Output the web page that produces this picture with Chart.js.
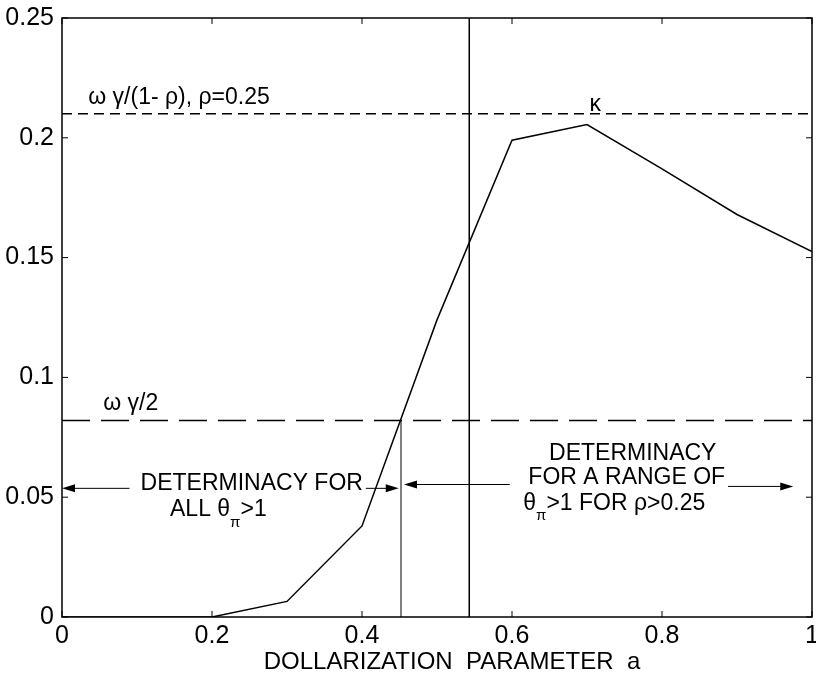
<!DOCTYPE html>
<html>
<head>
<meta charset="utf-8">
<script src="https://cdn.jsdelivr.net/npm/chart.js@4.4.1/dist/chart.umd.min.js"></script>
<style>
body { margin: 0; background: #fff; }
#wrap { width: 816px; height: 677px; }
</style>
</head>
<body>
<div id="wrap"><canvas id="kappaChart"></canvas></div>
<script>
// dollarization parameter a and kappa
var aValues = [0, 0.1, 0.2, 0.3, 0.4, 0.5, 0.6, 0.7, 0.8, 0.9, 1.0];
var kappaValues = [0, 0, 0, 0.0065, 0.038, 0.124, 0.199, 0.2055, 0.187, 0.168, 0.1525];

// reference levels
var upperLevel = 0.21;   // omega gamma/(1-rho), rho=0.25
var halfLevel = 0.082;   // omega gamma/2
var aCross = 0.452;      // kappa meets omega gamma/2
var aSplit = 0.543;

var xTicks = [0, 0.2, 0.4, 0.6, 0.8, 1];
var yTicks = [0, 0.05, 0.1, 0.15, 0.2, 0.25];
var xTitle = 'DOLLARIZATION  PARAMETER  a';

// arrows (data coords)
var arrowFromX = [0.09, 0.405, 0.597, 0.888];
var arrowToX = [0.0, 0.449, 0.456, 0.975];
var arrowY = [0.0537, 0.0537, 0.0553, 0.0545];

// text notes (data coords); [text, subscript?] parts
var noteParts = [
    [['ω γ/(1- ρ), ρ=0.25', 0]],
    [['κ', 0]],
    [['ω γ/2', 0]],
    [['DETERMINACY FOR', 0]],
    [['ALL θ', 0], ['π', 1], ['>1', 0]],
    [['DETERMINACY', 0]],
    [['FOR A RANGE OF', 0]],
    [['θ', 0], ['π', 1], ['>1 FOR ρ>0.25', 0]]
];
var noteX = [0.035, 0.711, 0.055, 0.253, 0.144, 0.761, 0.753, 0.615];
var noteY = [0.2167, 0.214, 0.089, 0.0558, 0.0446, 0.0683, 0.058, 0.0475];
var noteAlign = ['left', 'center', 'left', 'center', 'left', 'center', 'center', 'left'];

var FONT = "'Liberation Sans', Arial, sans-serif";

function pts(xs, ys) {
    var out = [];
    for (var i = 0; i < xs.length; i++) out.push({x: xs[i], y: ys[i]});
    return out;
}

function drawRich(ctx, parts, x, y, align) {
    var big = '23px ' + FONT, small = '15px ' + FONT;
    var total = 0;
    parts.forEach(function(p) {
        ctx.font = p[1] ? small : big;
        total += ctx.measureText(p[0]).width;
    });
    var cx = x;
    if (align == 'center') cx = x - total / 2;
    ctx.textAlign = 'left';
    ctx.textBaseline = 'middle';
    parts.forEach(function(p) {
        ctx.font = p[1] ? small : big;
        ctx.fillText(p[0], cx, p[1] ? y + 13 : y);
        cx += ctx.measureText(p[0]).width;
    });
}

var frame = {
    id: 'frame',
    afterDatasetsDraw: function(chart) {
        var ctx = chart.ctx, area = chart.chartArea;
        var xs = chart.scales.x, ys = chart.scales.y;
        ctx.save();
        ctx.strokeStyle = '#000';
        ctx.fillStyle = '#000';
        ctx.lineWidth = 1.5;
        ctx.strokeRect(area.left, area.top, area.right - area.left, area.bottom - area.top);

        // inward ticks on all four sides
        ctx.lineWidth = 1;
        ctx.beginPath();
        xTicks.forEach(function(v) {
            var px = xs.getPixelForValue(v);
            ctx.moveTo(px, area.bottom); ctx.lineTo(px, area.bottom - 6);
            ctx.moveTo(px, area.top); ctx.lineTo(px, area.top + 6);
        });
        yTicks.forEach(function(v) {
            var py = ys.getPixelForValue(v);
            ctx.moveTo(area.left, py); ctx.lineTo(area.left + 6, py);
            ctx.moveTo(area.right, py); ctx.lineTo(area.right - 6, py);
        });
        ctx.stroke();

        // arrows
        for (var i = 0; i < arrowFromX.length; i++) {
            var x1 = xs.getPixelForValue(arrowFromX[i]);
            var x2 = xs.getPixelForValue(arrowToX[i]);
            var py = ys.getPixelForValue(arrowY[i]);
            var dir = x2 > x1 ? 1 : -1;
            ctx.beginPath();
            ctx.moveTo(x1, py); ctx.lineTo(x2 - dir * 10, py);
            ctx.stroke();
            ctx.beginPath();
            ctx.moveTo(x2, py);
            ctx.lineTo(x2 - dir * 13, py - 4);
            ctx.lineTo(x2 - dir * 13, py + 4);
            ctx.closePath();
            ctx.fill();
        }

        // notes
        for (var j = 0; j < noteParts.length; j++) {
            drawRich(ctx, noteParts[j], xs.getPixelForValue(noteX[j]), ys.getPixelForValue(noteY[j]), noteAlign[j]);
        }

        // x axis title, sits a bit right of centre like the original
        ctx.font = '24px ' + FONT;
        ctx.textAlign = 'center';
        ctx.textBaseline = 'middle';
        ctx.fillText(xTitle, xs.getPixelForValue(0.52), 662);
        ctx.restore();
    }
};

function tickText(value) {
    return String(Number(value.toFixed(2)));
}

var ctx = document.getElementById('kappaChart').getContext('2d');

var chart1 = new Chart(ctx, {
    type: 'line',
    data: {
        datasets: [{
            label: 'kappa',
            data: pts(aValues, kappaValues),
            borderColor: '#000',
            borderWidth: 1.5,
            pointRadius: 0,
            tension: 0
        }, {
            label: 'upper',
            data: pts([0, 1], [upperLevel, upperLevel]),
            borderColor: '#000',
            borderWidth: 1.5,
            borderDash: [10, 6],
            pointRadius: 0
        }, {
            label: 'half',
            data: pts([0, 1], [halfLevel, halfLevel]),
            borderColor: '#000',
            borderWidth: 1.5,
            borderDash: [28, 11],
            pointRadius: 0
        }, {
            label: 'cross',
            data: pts([aCross, aCross], [0, halfLevel]),
            borderColor: '#000',
            borderWidth: 1,
            pointRadius: 0
        }, {
            label: 'split',
            data: pts([aSplit, aSplit], [0, 0.25]),
            borderColor: '#000',
            borderWidth: 1.5,
            pointRadius: 0
        }]
    },
    options: {
        responsive: true,
        maintainAspectRatio: false,
        animation: false,
        layout: { padding: { top: 18, right: 4, left: 0, bottom: 0 } },
        plugins: {
            legend: { display: false },
            tooltip: { enabled: false }
        },
        scales: {
            x: {
                type: 'linear',
                min: 0,
                max: 1,
                grid: { display: false, drawTicks: false },
                border: { display: false },
                ticks: {
                    stepSize: 0.2,
                    color: '#000',
                    padding: 4,
                    maxRotation: 0,
                    font: { family: FONT, size: 25 },
                    callback: tickText
                },
                afterFit: function(scale) {
                    scale.height = 60;
                    scale.paddingLeft = 0;
                    scale.paddingRight = 0;
                }
            },
            y: {
                min: 0,
                max: 0.25,
                grid: { display: false, drawTicks: false },
                border: { display: false },
                ticks: {
                    stepSize: 0.05,
                    color: '#000',
                    padding: 8,
                    font: { family: FONT, size: 25 },
                    callback: tickText
                },
                afterFit: function(scale) {
                    scale.width = 62;
                    scale.paddingTop = 0;
                    scale.paddingBottom = 0;
                }
            }
        }
    },
    plugins: [frame]
});
</script>
</body>
</html>
